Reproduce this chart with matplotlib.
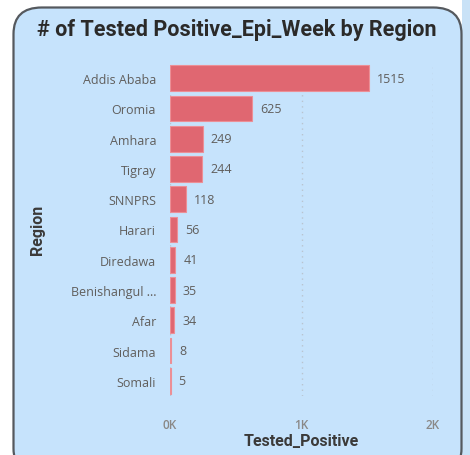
"""
Tested positive by region - horizontal bar card
"""
import matplotlib.pyplot as plt
from matplotlib.patches import FancyBboxPatch, Rectangle

regions = ["Addis Ababa", "Oromia", "Amhara", "Tigray", "SNNPRS", "Harari",
           "Diredawa", "Benishangul ...", "Afar", "Sidama", "Somali"]
tested_positive = [1515, 625, 249, 244, 118, 56, 41, 35, 34, 8, 5]
xticks = [0, 1000, 2000]
xtick_labels = ["0K", "1K", "2K"]

W, H = 470, 456
fig = plt.figure(figsize=(W / 100, H / 100), dpi=100)
fig.patch.set_facecolor("white")

# strip on the right and the card itself
fig.patches.append(Rectangle((462 / W, 0), 8 / W, 1, transform=fig.transFigure,
                             facecolor="#c9e2f7", edgecolor="none", zorder=-2))
card = FancyBboxPatch((13.5 / W, -20 / H), 448 / W, (H - 8.5 + 20) / H,
                      boxstyle="round,pad=0,rounding_size=0.06",
                      transform=fig.transFigure, facecolor="#c6e3fc",
                      edgecolor="#55595e", linewidth=1.6, mutation_aspect=H / W,
                      zorder=-1)
fig.patches.append(card)

fig.text(237 / W, 1 - 30 / H, "# of Tested Positive_Epi_Week by Region",
         ha="center", va="center", fontsize=15.5, fontweight="bold",
         color="#2b2a29", family="Roboto")

ax = fig.add_axes([170 / W, 1 - 397 / H, 263 / W, 333 / H])
ax.set_facecolor("none")

ypos = list(range(len(regions)))
ax.barh(ypos, tested_positive, height=0.85, color="#e06771",
        edgecolor="#ec8f96", linewidth=0.8, zorder=3)
for y, v in zip(ypos, tested_positive):
    ax.text(v + 60, y, str(v), va="center", ha="left", fontsize=9,
            color="#605e5c", family="Open Sans")

ax.set_ylim(len(regions) - 0.5, -0.5)
ax.set_xlim(0, 2000)
ax.set_yticks(ypos)
ax.set_yticklabels(regions, fontsize=9, color="#605e5c", family="Open Sans")
ax.set_xticks(xticks)
ax.set_xticklabels(xtick_labels, fontsize=8.5, color="#8a8886", family="Open Sans",
                   fontweight="semibold")
ax.tick_params(axis="both", length=0)
ax.tick_params(axis="y", pad=10)
ax.tick_params(axis="x", pad=16)
for sp in ax.spines.values():
    sp.set_visible(False)
ax.grid(axis="x", linestyle=(0, (1, 3)), color="#b9c4cf", linewidth=1, zorder=0)

ax.set_xlabel("Tested_Positive", fontsize=11.5, fontweight="bold",
              color="#3b3a39", family="Roboto", labelpad=1)
fig.text(37 / W, 1 - 230 / H, "Region", rotation=90, ha="center", va="center",
         fontsize=11.5, fontweight="bold", color="#3b3a39", family="Roboto")

fig.savefig("out.png", dpi=100)
